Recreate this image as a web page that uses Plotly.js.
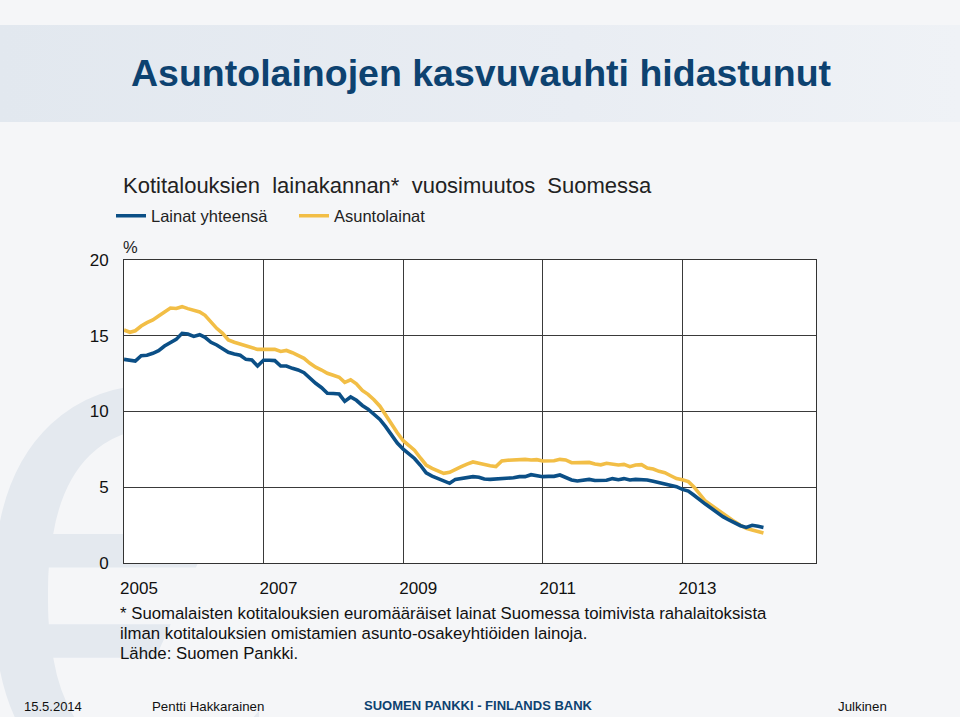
<!DOCTYPE html>
<html><head><meta charset="utf-8">
<script src="https://cdn.plot.ly/plotly-3.0.1.min.js"></script>
<style>html,body{margin:0;padding:0;background:#f5f6f8;}#chart{width:960px;height:717px;}</style>
</head><body><div id="chart"></div>
<script>
// ---- data (monthly, Jan 2005 - Mar 2014), annual growth % ----
const startYear = 2005;
const seriesNames = ['Lainat yhteensä', 'Asuntolainat'];
const lainatYhteensa = [
  13.44, 13.38, 13.33, 13.68, 13.71, 13.84, 14.01, 14.32, 14.54, 14.76, 15.16, 15.11,
  14.96, 15.07, 14.90, 14.57, 14.39, 14.17, 13.91, 13.80, 13.71, 13.44, 13.40, 13.00,
  13.38, 13.38, 13.36, 13.00, 13.00, 12.85, 12.74, 12.56, 12.17, 11.86, 11.57, 11.20,
  11.19, 11.15, 10.67, 10.96, 10.74, 10.40, 10.15, 9.82, 9.48, 9.00, 8.45, 7.92,
  7.52, 7.20, 6.90, 6.45, 5.95, 5.74, 5.59, 5.41, 5.26, 5.52, 5.59, 5.66,
  5.70, 5.66, 5.54, 5.52, 5.54, 5.59, 5.63, 5.63, 5.70, 5.70, 5.83, 5.79,
  5.70, 5.72, 5.72, 5.81, 5.66, 5.48, 5.41, 5.48, 5.52, 5.45, 5.44, 5.46,
  5.57, 5.50, 5.57, 5.48, 5.52, 5.52, 5.48, 5.39, 5.30, 5.19, 5.15, 5.04,
  4.86, 4.75, 4.49, 4.16, 3.89, 3.61, 3.32, 3.06, 2.84, 2.62, 2.46, 2.35,
  2.49, 2.42, 2.35
];
const asuntolainat = [
  15.38, 15.23, 15.33, 15.64, 15.86, 16.04, 16.30, 16.57, 16.83, 16.80, 16.92, 16.79,
  16.66, 16.57, 16.35, 15.89, 15.49, 15.16, 14.72, 14.57, 14.46, 14.32, 14.19, 14.10,
  14.10, 14.13, 14.10, 13.96, 14.03, 13.88, 13.71, 13.51, 13.18, 12.92, 12.74, 12.52,
  12.39, 12.26, 11.92, 12.09, 11.83, 11.39, 11.13, 10.78, 10.35, 9.74, 9.16, 8.60,
  8.07, 7.71, 7.45, 6.93, 6.47, 6.25, 6.09, 5.92, 5.99, 6.20, 6.36, 6.53,
  6.67, 6.58, 6.49, 6.42, 6.36, 6.73, 6.78, 6.80, 6.82, 6.84, 6.80, 6.82,
  6.73, 6.71, 6.75, 6.84, 6.80, 6.62, 6.62, 6.64, 6.64, 6.53, 6.48, 6.58,
  6.53, 6.47, 6.51, 6.36, 6.47, 6.49, 6.27, 6.20, 6.05, 5.96, 5.76, 5.57,
  5.50, 5.37, 5.04, 4.53, 4.09, 3.81, 3.54, 3.23, 2.95, 2.73, 2.49, 2.29,
  2.18, 2.07, 1.98
];
const tickYears = ['2005', '2007', '2009', '2011', '2013'];
const yTicks = [0, 5, 10, 15, 20];
const footnoteLines = [
  '* Suomalaisten kotitalouksien euromääräiset lainat Suomessa toimivista rahalaitoksista',
  'ilman kotitalouksien omistamien asunto-osakeyhtiöiden lainoja.',
  'Lähde: Suomen Pankki.'
];

const months = lainatYhteensa.map((_, i) =>
  `${startYear + Math.floor(i / 12)}-${String(i % 12 + 1).padStart(2, '0')}-01`);

// ---- page geometry helpers (plot area 124..816 x 260..563 px) ----
const L = 124, T = 260, W = 692, H = 303;
const px = x => (x - L) / W;
const py = y => (T + H - y) / H;

const FONT = 'Liberation Sans, Arial, sans-serif';
const BLUE = '#0b4f86', YELLOW = '#f2be46', DARK = '#0d4270';

const bgSvg = `<svg xmlns='http://www.w3.org/2000/svg' width='960' height='717'>
<defs><linearGradient id='g' x1='0' x2='1' y1='0' y2='0'>
<stop offset='0' stop-color='#e2e8ef'/><stop offset='0.6' stop-color='#e9edf3'/><stop offset='1' stop-color='#eff2f6'/></linearGradient></defs>
<rect width='960' height='717' fill='#f5f6f8'/>
<rect y='25' width='960' height='97' fill='url(#g)'/>
<text x='-60' y='800' font-family='DejaVu Sans' font-size='560' fill='#e4e9ef'>€</text>
<rect x='124' y='260' width='692' height='303' fill='#ffffff'/>
</svg>`;

const traces = [
  { x: months, y: asuntolainat, name: seriesNames[1], type: 'scatter', mode: 'lines',
    line: { color: YELLOW, width: 3.6 }, legendrank: 2, hoverinfo: 'skip' },
  { x: months, y: lainatYhteensa, name: seriesNames[0], type: 'scatter', mode: 'lines',
    line: { color: BLUE, width: 3.6 }, legendrank: 1, hoverinfo: 'skip' }
];

const ann = (text, x, y, size, opts = {}) => Object.assign({
  text, x: px(x), y: py(y), xref: 'paper', yref: 'paper',
  xanchor: 'left', yanchor: 'middle', showarrow: false,
  font: { family: FONT, size, color: opts.color || '#111' }
}, opts.extra || {});

const layout = {
  width: 960, height: 717,
  margin: { l: L, r: 960 - L - W, t: T, b: 717 - T - H, pad: 0 },
  paper_bgcolor: '#f5f6f8',
  plot_bgcolor: 'rgba(0,0,0,0)',
  font: { family: FONT, color: '#111' },
  showlegend: true,
  legend: {
    orientation: 'h', x: px(111), xanchor: 'left', y: py(216), yanchor: 'middle',
    font: { family: FONT, size: 16.5, color: '#222' }, bgcolor: 'rgba(0,0,0,0)',
    entrywidth: 138, entrywidthmode: 'pixels', itemwidth: 30, borderwidth: 0,
    traceorder: 'normal'
  },
  xaxis: {
    type: 'date', range: ['2005-01-01', '2014-12-01'],
    tickvals: tickYears.map(y => y + '-01-01'), ticktext: tickYears,
    showgrid: true, gridcolor: '#3a3a3a', gridwidth: 1,
    showline: true, linecolor: '#333', linewidth: 1, mirror: true,
    ticks: '', ticklabelshift: 15, ticklabelstandoff: 10,
    tickfont: { family: FONT, size: 17, color: '#111' }, zeroline: false, fixedrange: true
  },
  yaxis: {
    range: [0, 20], tickvals: yTicks,
    showgrid: true, gridcolor: '#3a3a3a', gridwidth: 1,
    showline: true, linecolor: '#333', linewidth: 1, mirror: true,
    ticks: '', ticklabelstandoff: 11,
    tickfont: { family: FONT, size: 17, color: '#111' }, zeroline: false, fixedrange: true
  },
  images: [{
    source: 'data:image/svg+xml;charset=utf-8,' + encodeURIComponent(bgSvg),
    xref: 'paper', yref: 'paper', x: px(0), y: py(0), sizex: 960 / W, sizey: 717 / H,
    xanchor: 'left', yanchor: 'top', sizing: 'stretch', layer: 'below'
  }],
  annotations: [
    ann('<b>Asuntolainojen kasvuvauhti hidastunut</b>', 481, 73, 37.5,
        { color: DARK, extra: { xanchor: 'center' } }),
    ann('Kotitalouksien&nbsp; lainakannan*&nbsp; vuosimuutos&nbsp; Suomessa', 121, 185, 22, { color: '#222' }),
    ann('%', 121, 247, 16.5, { color: '#222' }),
    ann(footnoteLines[0], 118, 613, 16.8),
    ann(footnoteLines[1], 118, 633, 16.8),
    ann(footnoteLines[2], 118, 653, 16.8),
    ann('15.5.2014', 22, 706, 13),
    ann('Pentti Hakkarainen', 150, 706, 13.3),
    ann('<b>SUOMEN PANKKI - FINLANDS BANK</b>', 478, 705, 13, { color: DARK, extra: { xanchor: 'center' } }),
    ann('Julkinen', 836, 706, 13.3)
  ]
};

Plotly.newPlot('chart', traces, layout, { displayModeBar: false, staticPlot: true });
</script>
</body></html>
